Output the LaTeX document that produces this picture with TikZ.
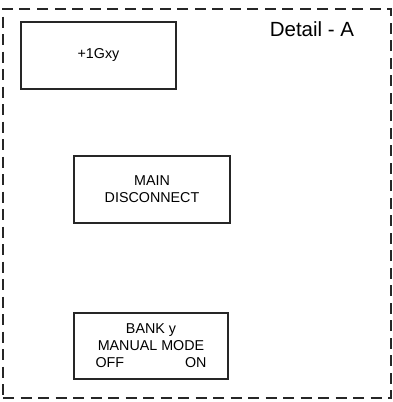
\documentclass[tikz,border=0pt]{standalone}
\usepackage{fontspec}
\setmainfont{Liberation Sans}
\begin{document}
\begin{tikzpicture}[x=1pt, y=-1pt,
  box/.style={draw=black!85, line width=1.6pt, minimum width=155pt, minimum height=67pt, align=center, inner sep=0pt, font=\fontsize{14.3}{17}\selectfont},
  frame/.style={draw=black!85, line width=1.6pt, dash pattern=on 11pt off 6.5pt, minimum width=388pt, minimum height=389pt, inner sep=0pt}
]
  \useasboundingbox (0,0) rectangle (392,402);

  % Detail frame
  \node[frame] (detail) at (197,203.5) {};
  \node[font=\fontsize{20.5}{24}\selectfont, anchor=base] (title) at (312,36) {Detail - A};

  % Boxes
  \node[box] (gxy) at (98.5,55.5) {\raisebox{3pt}{+1Gxy}};
  \node[box, minimum width=156pt] (main) at (152,189.5) {MAIN\\DISCONNECT};
  \node[box, minimum width=154pt, minimum height=66pt] (bank) at (151,346) {BANK y\\MANUAL MODE\\\makebox[111pt]{OFF\hfill ON}};
\end{tikzpicture}
\end{document}
